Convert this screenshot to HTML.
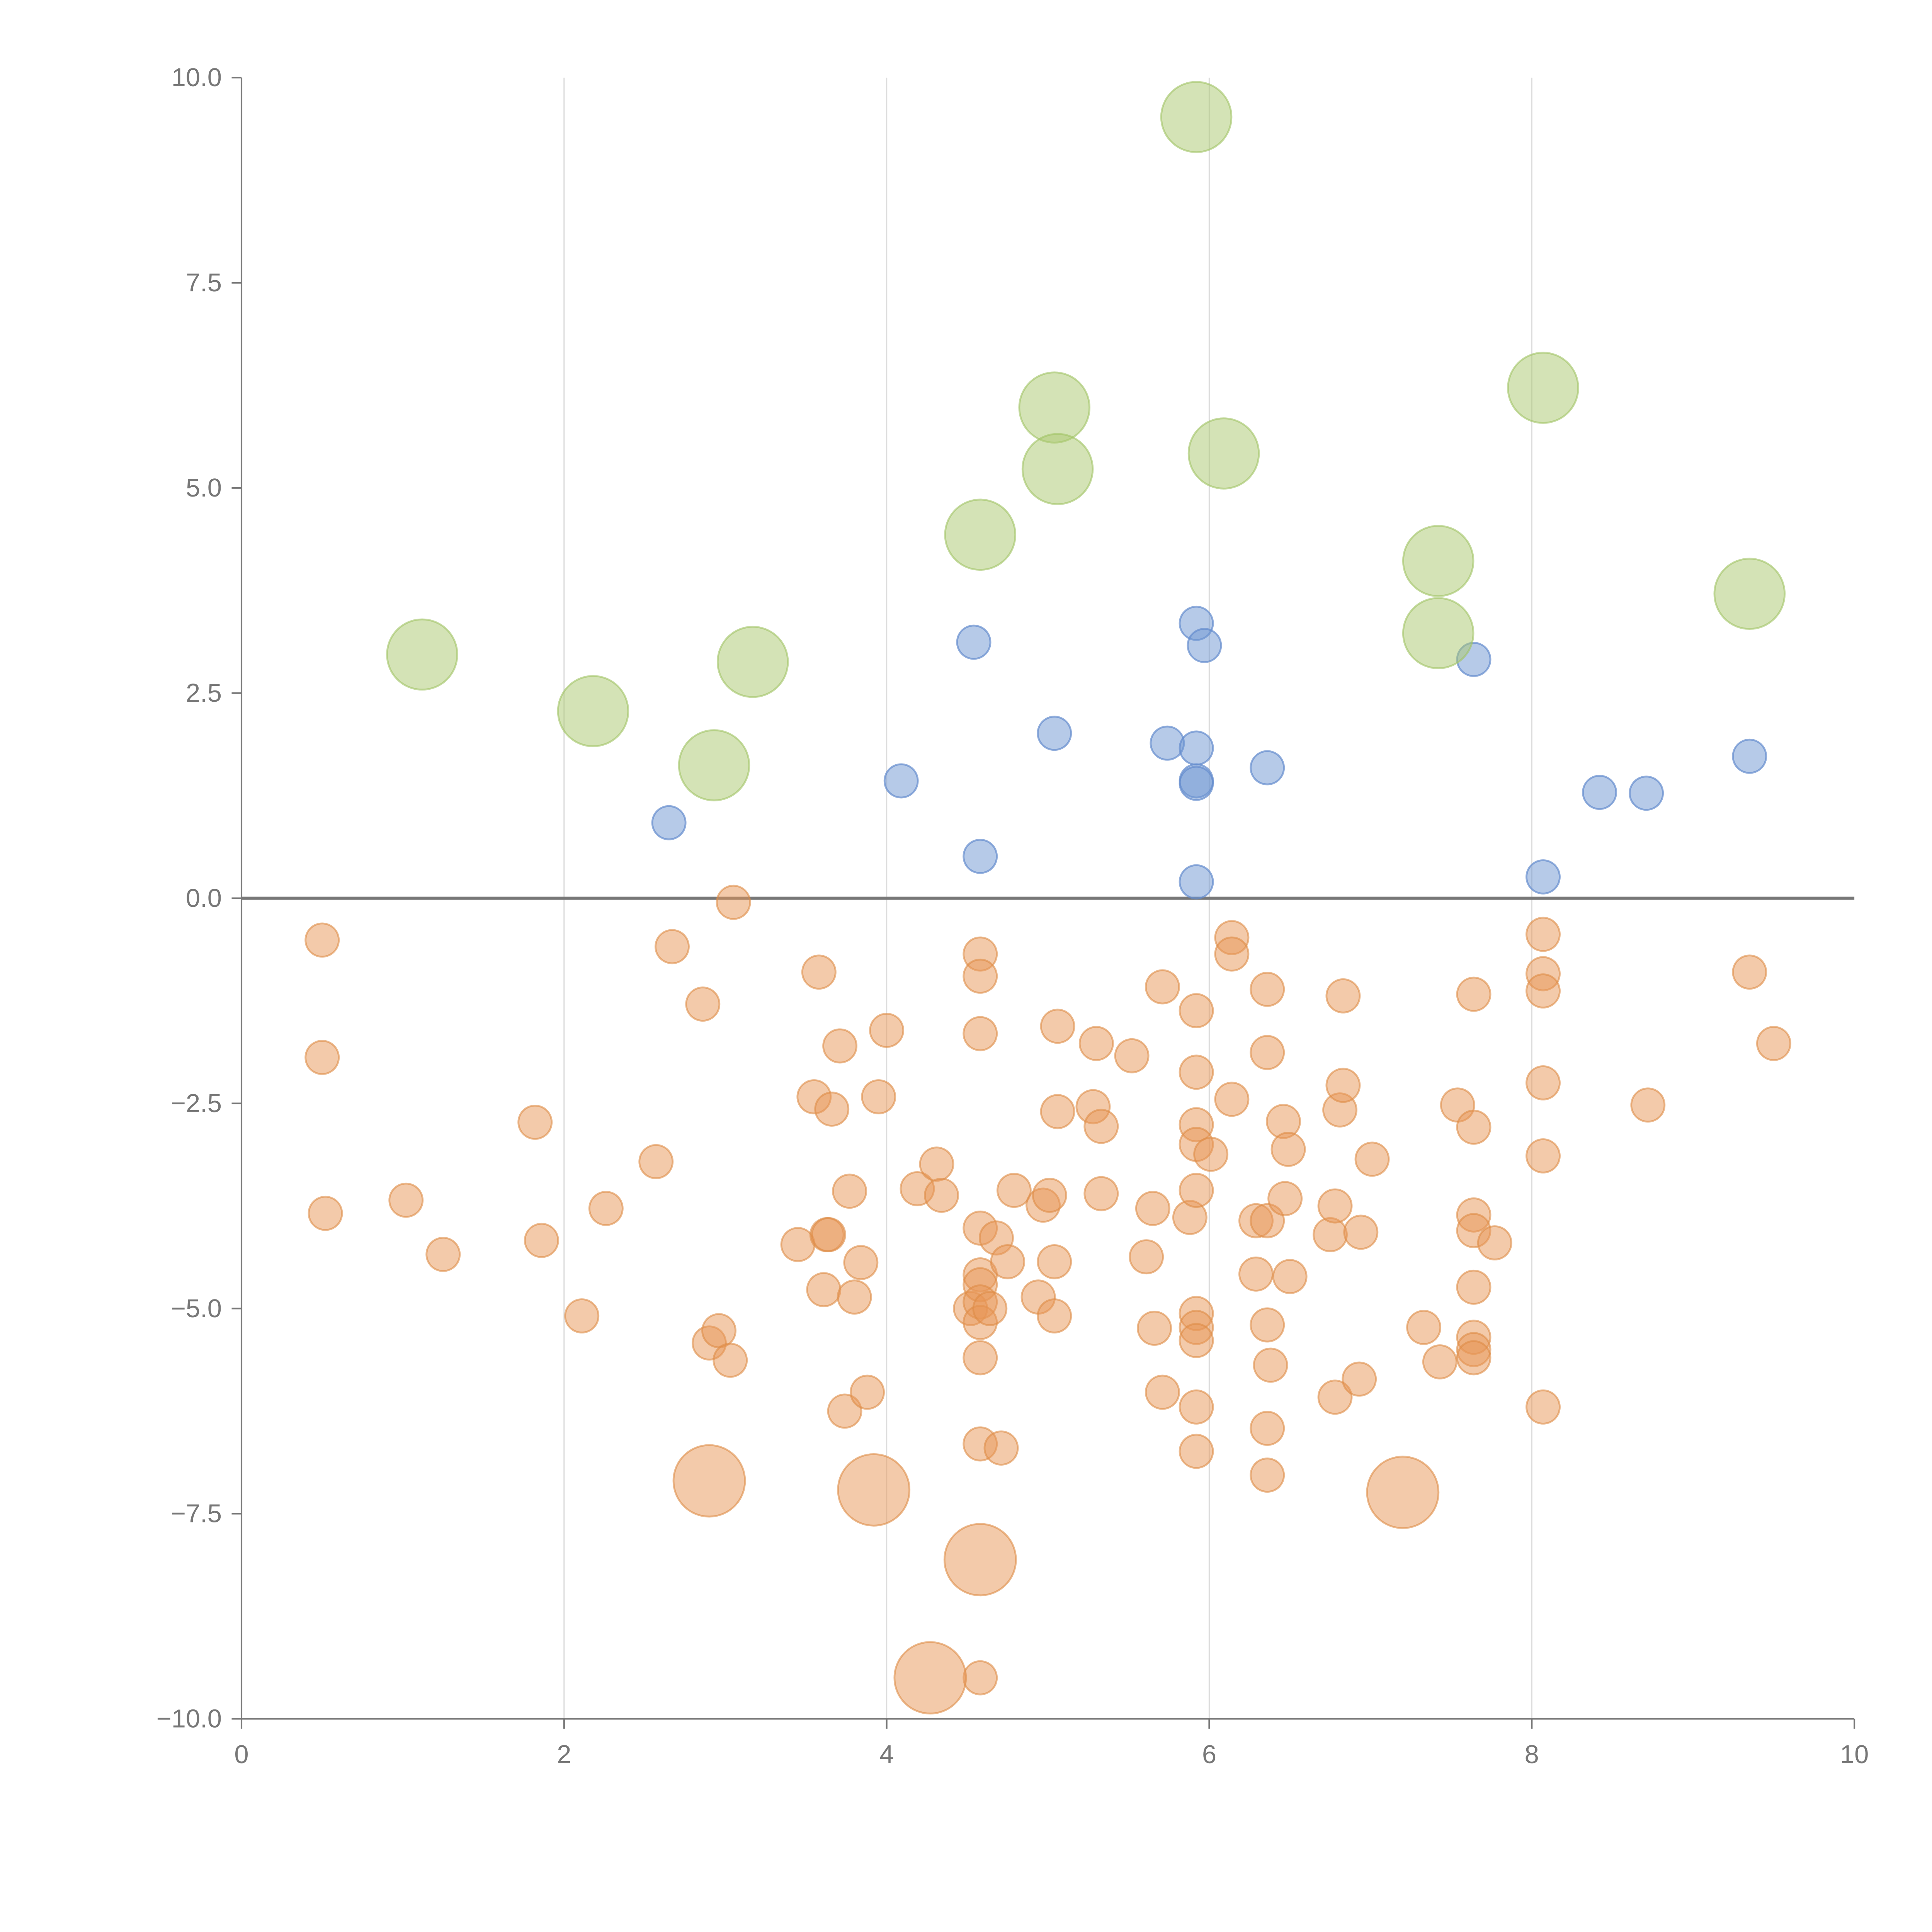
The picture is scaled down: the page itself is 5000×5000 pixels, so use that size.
<!DOCTYPE html>
<html><head><meta charset="utf-8"><style>
html,body{margin:0;padding:0;background:#fff}
svg{display:block}
text{font-family:"Liberation Sans",Arial,sans-serif;fill:#777}
</style></head><body>
<svg id="chart" width="5000" height="5000" viewBox="0 0 1568 1568" xmlns="http://www.w3.org/2000/svg">
<g id="grid"></g>
<g id="axes"></g>
<g id="marks"></g>
</svg>
<script>
const xTicks=[0,2,4,6,8,10];
const yTicks=[10,7.5,5,2.5,0,-2.5,-5,-7.5,-10];
const greenX=[1.12,2.18,2.93,3.17,4.58,5.04,5.06,5.92,6.09,7.42,7.42,8.07,9.35];
const greenY=[2.97,2.28,1.62,2.88,4.43,5.98,5.23,9.52,5.42,4.11,3.23,6.22,3.71];
const blueX=[2.65,4.09,4.54,4.58,5.04,5.74,5.92,5.97,5.92,5.92,5.92,5.92,6.36,7.64,8.07,8.42,8.71,9.35];
const blueY=[0.92,1.43,3.12,0.51,2.01,1.89,3.35,3.08,1.83,1.43,1.40,0.2,1.59,2.91,0.26,1.29,1.28,1.73];
const bigOrangeX=[2.90,3.92,4.58,4.27,7.20];
const bigOrangeY=[-7.10,-7.21,-8.06,-9.50,-7.24];
const orangeX=[0.50,0.50,0.52,1.02,1.25,1.82,1.86,2.11,2.26,2.57,2.67,2.86,2.90,2.96,3.03,3.05,3.45,3.55,3.58,3.61,3.63,3.64,3.66,3.71,3.74,3.77,3.80,3.84,3.88,3.95,4.00,4.19,4.31,4.34,4.52,4.58,4.58,4.58,4.58,4.58,4.58,4.58,4.58,4.58,4.58,4.58,4.64,4.68,4.71,4.75,4.79,4.94,4.97,5.01,5.04,5.04,5.06,5.06,5.28,5.30,5.33,5.33,5.52,5.61,5.65,5.66,5.71,5.71,5.88,5.92,5.92,5.92,5.92,5.92,5.92,5.92,5.92,5.92,5.92,6.01,6.14,6.14,6.14,6.29,6.29,6.36,6.36,6.36,6.36,6.38,6.36,6.36,6.46,6.49,6.47,6.50,6.75,6.78,6.78,6.81,6.83,6.83,6.93,6.94,7.01,7.33,7.43,7.54,7.64,7.64,7.64,7.64,7.64,7.64,7.64,7.64,7.77,8.07,8.07,8.07,8.07,8.07,8.07,8.72,9.35,9.50];
const orangeY=[-0.51,-1.94,-3.84,-3.68,-4.34,-2.73,-4.17,-5.09,-3.78,-3.21,-0.59,-1.29,-5.42,-5.27,-5.63,-0.05,-4.22,-2.42,-0.90,-4.77,-4.10,-4.10,-2.57,-1.80,-6.25,-3.57,-4.86,-4.44,-6.02,-2.42,-1.61,-3.54,-3.24,-3.62,-5.00,-0.68,-0.95,-1.65,-4.02,-4.59,-4.71,-4.92,-5.17,-5.60,-6.65,-9.50,-5.00,-4.14,-6.70,-4.43,-3.56,-4.86,-3.74,-3.62,-4.43,-5.09,-1.56,-2.60,-2.54,-1.77,-2.78,-3.60,-1.92,-4.37,-3.78,-5.24,-6.02,-1.08,-3.89,-1.37,-2.12,-2.76,-3.00,-3.56,-5.06,-5.23,-5.39,-6.20,-6.74,-3.12,-0.48,-0.68,-2.45,-3.93,-4.58,-1.11,-1.88,-3.93,-5.20,-5.69,-6.46,-7.03,-2.72,-3.06,-3.66,-4.61,-4.10,-3.75,-6.08,-2.58,-2.28,-1.19,-5.86,-4.07,-3.18,-5.23,-5.65,-2.52,-1.17,-2.79,-3.86,-4.05,-4.74,-5.35,-5.50,-5.60,-4.20,-0.44,-0.92,-1.13,-2.25,-3.14,-6.20,-2.52,-0.90,-1.77];

const NS='http://www.w3.org/2000/svg';
const X0=196,X1=1505,Y0=1395,Y1=63;
const sx=v=>X0+(v-0)/(10-0)*(X1-X0);
const sy=v=>Y0-(v+10)/20*(Y0-Y1);
function mk(tag,attrs,parent){const e=document.createElementNS(NS,tag);for(const k in attrs)e.setAttribute(k,attrs[k]);parent.appendChild(e);return e;}
const grid=document.getElementById('grid'),axes=document.getElementById('axes'),marks=document.getElementById('marks');
xTicks.forEach(t=>{
  if(t>0&&t<10){const g=mk('line',{x1:sx(t),x2:sx(t),y1:Y1,y2:Y0,stroke:'#ddd','stroke-width':1},grid);
  
  }
  const tk=mk('line',{x1:sx(t),x2:sx(t),y1:Y0,y2:Y0+8,stroke:'#777','stroke-width':1.3},axes);
  
  
  const tx=mk('text',{x:sx(t),y:Y0+36,'text-anchor':'middle','font-size':21},axes);
  tx.textContent=String(t);
  
  
});
yTicks.forEach(t=>{
  const tk=mk('line',{x1:X0-8,x2:X0,y1:sy(t),y2:sy(t),stroke:'#777','stroke-width':1.3},axes);
  
  
  const tx=mk('text',{x:X0-16,y:sy(t)+7,'text-anchor':'end','font-size':21},axes);
  tx.textContent=(t<0?'\u2212':'')+Math.abs(t).toFixed(1);
  
  
});
let a=mk('line',{x1:X0,x2:X0,y1:Y1,y2:Y0,stroke:'#777','stroke-width':1.3},axes);


a=mk('line',{x1:X0,x2:X1,y1:Y0,y2:Y0,stroke:'#777','stroke-width':1.3},axes);


a=mk('line',{x1:X0,x2:X1,y1:sy(0),y2:sy(0),stroke:'#777','stroke-width':2.5},axes);


function series(xs,ys,r,fill,stroke,name){
  xs.forEach((x,i)=>{
    const c=mk('circle',{cx:sx(x),cy:sy(ys[i]),r:r,fill:fill,stroke:stroke,'stroke-width':1.5},marks);
    
    
  });
}
series(orangeX,orangeY,13.5,'rgba(232,150,85,0.5)','rgba(222,140,70,0.6)','orange-bubble');
series(bigOrangeX,bigOrangeY,29,'rgba(232,150,85,0.5)','rgba(222,140,70,0.6)','large-orange-bubble');
series(blueX,blueY,13.5,'rgba(110,150,210,0.5)','rgba(100,140,205,0.7)','blue-bubble');
series(greenX,greenY,28.5,'rgba(170,200,110,0.5)','rgba(160,195,100,0.6)','green-bubble');
</script>
</body></html>
